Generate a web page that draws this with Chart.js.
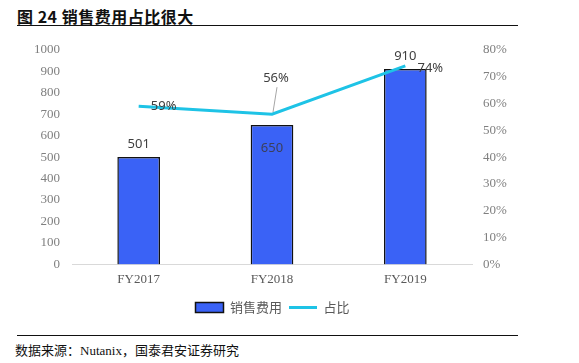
<!DOCTYPE html>
<html>
<head>
<meta charset="utf-8">
<script src="https://cdn.jsdelivr.net/npm/chart.js@4"></script>
<style>
  html, body { margin: 0; padding: 0; background: #fff; width: 579px; height: 363px; overflow: hidden; position: relative; }
  .title { position: absolute; left: 17px; top: 4px; font: bold 16px "Noto Sans CJK SC", serif; color: #111; letter-spacing: 0.5px; }
  .rule { position: absolute; left: 17px; width: 501px; height: 0; border-top: 1.5px solid #111; }
  .source { position: absolute; left: 15px; top: 340px; font: 13px "Liberation Serif", "Noto Sans CJK SC", serif; color: #111; }
  .wrap { position: absolute; left: 0; top: 30px; width: 545px; height: 294px; }
</style>
</head>
<body>
<div class="title">图 24 销售费用占比很大</div>
<div class="rule" style="top:25px"></div>
<div class="wrap"><canvas id="c"></canvas></div>
<div class="rule" style="top:335px"></div>
<div class="source">数据来源：Nutanix，国泰君安证券研究</div>
<script>
const categories = ['FY2017', 'FY2018', 'FY2019'];
const salesExpense = [501, 650, 910];
const expenseShare = [59, 56, 74];
const leftTicks = [0, 100, 200, 300, 400, 500, 600, 700, 800, 900, 1000];
const rightTicks = [0, 10, 20, 30, 40, 50, 60, 70, 80];

const tickFont = { family: '"Liberation Serif", serif', size: 13 };

const labelsPlugin = {
  id: 'valueLabels',
  afterDatasetsDraw(chart) {
    const ctx = chart.ctx;
    ctx.save();
    ctx.font = '13px "Noto Sans", "DejaVu Sans", sans-serif';
    ctx.textAlign = 'center';
    ctx.textBaseline = 'middle';
    const bars = chart.getDatasetMeta(0).data;
    bars.forEach((b, i) => {
      if (i === 1) {
        ctx.fillStyle = '#3b3f5a';
        ctx.fillText(salesExpense[i], b.x, b.y + 23);
      } else {
        ctx.fillStyle = '#404040';
        ctx.fillText(salesExpense[i], b.x, b.y - 13);
      }
    });
    const pts = chart.getDatasetMeta(1).data;
    ctx.fillStyle = '#404040';
    pts.forEach((p, i) => {
      const txt = expenseShare[i] + '%';
      if (i === 1) {
        ctx.strokeStyle = '#a6a6a6';
        ctx.lineWidth = 1;
        ctx.beginPath();
        ctx.moveTo(p.x + 5, p.y - 27);
        ctx.lineTo(p.x + 1, p.y - 2);
        ctx.stroke();
        ctx.fillText(txt, p.x + 4, p.y - 36);
      } else if (i === 0) {
        ctx.fillText(txt, p.x + 25, p.y);
      } else {
        ctx.fillText(txt, p.x + 25, p.y + 2);
      }
    });
    ctx.restore();
  }
};

new Chart(document.getElementById('c'), {
  data: {
    labels: categories,
    datasets: [
      {
        type: 'bar',
        label: '销售费用',
        data: salesExpense,
        backgroundColor: '#3a62f6',
        borderColor: '#111',
        borderWidth: 1.5,
        categoryPercentage: 1,
        barPercentage: 0.32,
        yAxisID: 'y',
        order: 2
      },
      {
        type: 'line',
        label: '占比',
        data: expenseShare,
        borderColor: '#1ec3e6',
        backgroundColor: '#1ec3e6',
        borderWidth: 3,
        pointRadius: 0,
        tension: 0,
        yAxisID: 'y1',
        order: 1
      }
    ]
  },
  options: {
    responsive: true,
    maintainAspectRatio: false,
    animation: false,
    layout: { padding: { top: 18, left: 0, right: 0, bottom: 0 } },
    plugins: {
      tooltip: { enabled: false },
      legend: {
        position: 'bottom',
        labels: {
          color: '#595959',
          font: { family: '"Noto Sans CJK SC", sans-serif', size: 13 },
          usePointStyle: true,
          pointStyleWidth: 28,
          boxHeight: 10,
          padding: 7,
          sort: (a, b) => a.datasetIndex - b.datasetIndex,
          generateLabels(chart) {
            const items = Chart.defaults.plugins.legend.labels.generateLabels(chart);
            items.forEach(it => {
              if (it.datasetIndex === 0) {
                it.pointStyle = 'rect';
                it.lineWidth = 1.5;
              } else {
                it.pointStyle = 'line';
                it.lineWidth = 3;
              }
            });
            return items;
          }
        }
      }
    },
    scales: {
      x: {
        grid: { display: false, drawTicks: false },
        border: { color: '#d9d9d9', width: 1 },
        ticks: { color: '#595959', font: tickFont, padding: 7 }
      },
      y: {
        position: 'left',
        min: 0,
        max: 1000,
        afterBuildTicks(axis) { axis.ticks = leftTicks.map(v => ({ value: v })); },
        afterFit(axis) { axis.width = 72; },
        grid: { display: false, drawTicks: false },
        border: { display: false },
        ticks: { color: '#7f7f7f', font: tickFont, padding: 12, callback: v => String(v) }
      },
      y1: {
        position: 'right',
        min: 0,
        max: 80,
        afterBuildTicks(axis) { axis.ticks = rightTicks.map(v => ({ value: v })); },
        afterFit(axis) { axis.width = 73; },
        grid: { display: false, drawTicks: false },
        border: { display: false },
        ticks: { color: '#7f7f7f', font: tickFont, padding: 11, callback: v => v + '%' }
      }
    }
  },
  plugins: [labelsPlugin]
});
</script>
</body>
</html>
